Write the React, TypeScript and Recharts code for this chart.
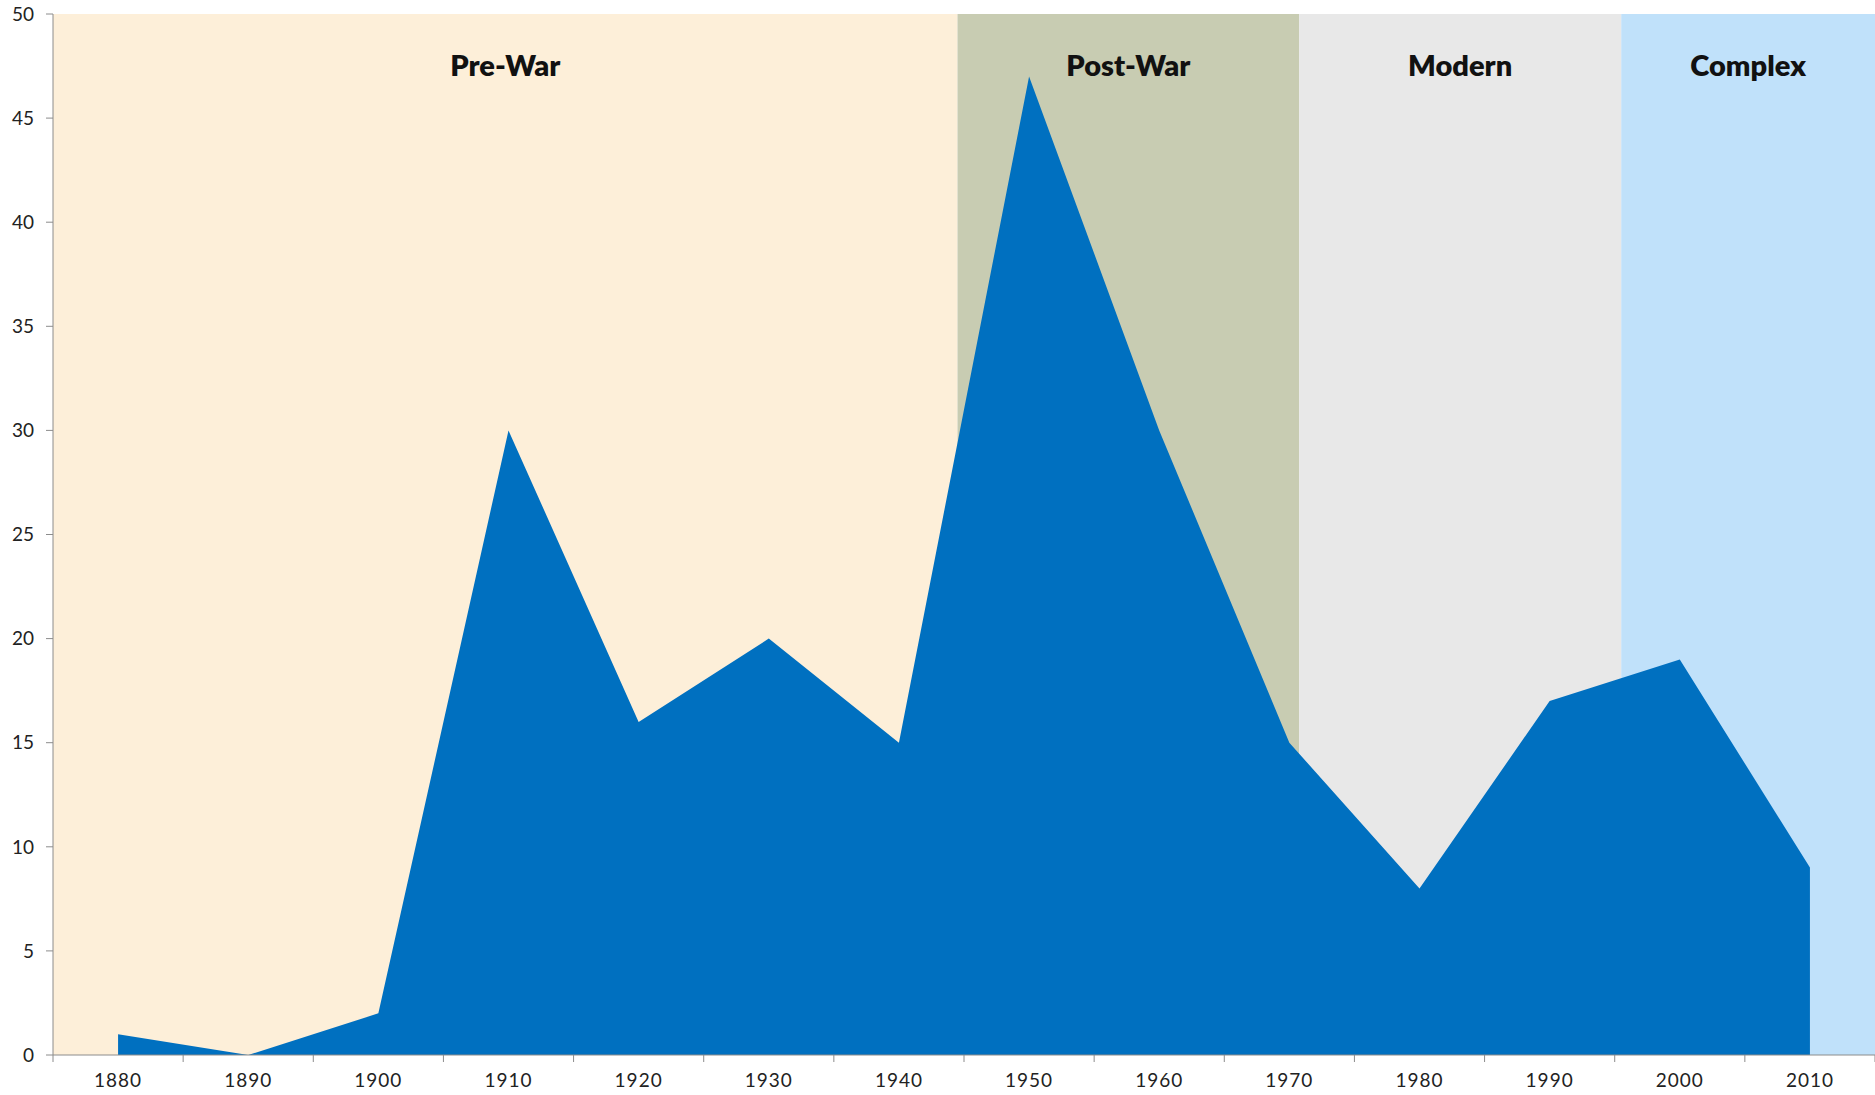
import { AreaChart, Area, XAxis, YAxis, ReferenceArea } from 'recharts';

// decades and counts
const years = [1880, 1890, 1900, 1910, 1920, 1930, 1940, 1950, 1960, 1970, 1980, 1990, 2000, 2010];
const counts = [1, 0, 2, 30, 16, 20, 15, 47, 30, 15, 8, 17, 19, 9];

// era bands (start, end) on the year scale
const eraNames = ['Pre-War', 'Post-War', 'Modern', 'Complex'];
const eraStart = [1875, 1944.5, 1970.75, 1995.5];
const eraEnd = [1944.5, 1970.75, 1995.5, 2015];
const eraColors = ['#fdefd9', '#c8ccb2', '#e8e8e8', '#c0e1fa'];

const yTicks = [0, 5, 10, 15, 20, 25, 30, 35, 40, 45, 50];
const xTicks = [
    1875, 1880, 1885, 1890, 1895, 1900, 1905, 1910, 1915, 1920, 1925, 1930, 1935, 1940, 1945,
    1950, 1955, 1960, 1965, 1970, 1975, 1980, 1985, 1990, 1995, 2000, 2005, 2010, 2015,
];

const FONT = 'Lato, "Open Sans", sans-serif';
const AXIS = '#8c8c8c';

const data = years.map((year, i) => ({ year, value: counts[i] }));

// decade labels sit between the tick marks, Excel style
function YearTick({ x, y, payload }: any) {
    const v = payload.value;
    if (v % 10 === 5) {
        return <line x1={x} x2={x} y1={y} y2={y + 7} stroke={AXIS} strokeWidth={1} />;
    }
    return (
        <text x={x} y={y + 27} textAnchor="middle" dominantBaseline="middle" fill="#222" fontSize={19} fontFamily={FONT} letterSpacing={1}>
            {v}
        </text>
    );
}

export default function App() {
    return (
        <div style={{ position: 'absolute', left: 0, top: 0, width: 1875, height: 1095, background: '#fff' }}>
            <AreaChart width={1875} height={1095} data={data} margin={{ top: 14, right: 0, bottom: 0, left: 0 }}>
                <XAxis
                    dataKey="year"
                    type="number"
                    domain={[1875, 2015]}
                    ticks={xTicks}
                    interval={0}
                    tick={<YearTick />}
                    tickLine={false}
                    tickSize={0}
                    tickMargin={0}
                    axisLine={{ stroke: AXIS }}
                    height={40}
                    allowDataOverflow
                />
                <YAxis
                    domain={[0, 50]}
                    ticks={yTicks}
                    interval={0}
                    width={53}
                    tickSize={7}
                    tickMargin={12}
                    axisLine={{ stroke: AXIS }}
                    tickLine={{ stroke: AXIS }}
                    tick={{ fill: '#222', fontSize: 19, fontFamily: FONT }}
                />
                {eraNames.map((name, i) => (
                    <ReferenceArea
                        key={name}
                        x1={eraStart[i]}
                        x2={eraEnd[i]}
                        y1={0}
                        y2={50}
                        fill={eraColors[i]}
                        fillOpacity={1}
                        stroke="none"
                        ifOverflow="hidden"
                        label={{
                            value: name,
                            position: 'insideTop',
                            offset: 41,
                            fill: '#111',
                            fontSize: 29,
                            fontWeight: 800,
                            fontFamily: FONT,
                        }}
                    />
                ))}
                <Area
                    type="linear"
                    dataKey="value"
                    stroke="none"
                    fill="#0070c0"
                    fillOpacity={1}
                    isAnimationActive={false}
                    dot={false}
                    activeDot={false}
                />
            </AreaChart>
        </div>
    );
}
